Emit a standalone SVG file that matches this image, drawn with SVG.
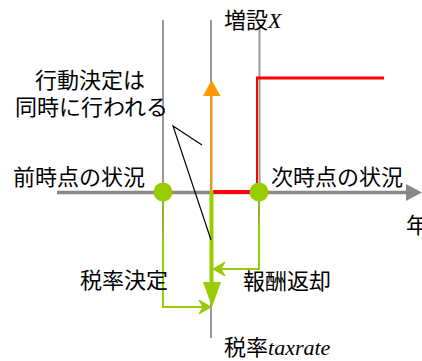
<svg xmlns="http://www.w3.org/2000/svg" width="422" height="361" viewBox="0 0 422 361">
<defs>
<style>
.t{font-family:"Noto Sans CJK JP","Noto Sans",sans-serif;font-size:22px;fill:#000}
.i{font-family:"Liberation Serif",serif;font-style:italic}
.g{stroke:#999;stroke-width:2;fill:none}
.gr{stroke:#99CC00;stroke-width:2;fill:none}
.red{stroke:#FF0000;fill:none}
</style>
<linearGradient id="lg" x1="0" y1="0" x2="0" y2="1">
<stop offset="0" stop-color="#8FA83A"/>
<stop offset="0.3" stop-color="#99B833"/>
<stop offset="0.4" stop-color="#99CC00"/>
<stop offset="1" stop-color="#99CC00"/>
</linearGradient>
</defs>
<rect width="422" height="361" fill="#fff"/>
<g id="guides">
<line class="g" x1="163" y1="20" x2="163" y2="192"/>
<line class="g" x1="211" y1="20" x2="211" y2="338"/>
<line class="g" x1="259.5" y1="27" x2="259.5" y2="192"/>
</g>
<g id="axis">
<line x1="57" y1="192.5" x2="408" y2="192.5" stroke="#888" stroke-width="3.5"/>
<polygon points="406,184 422,192.5 406,201" fill="#888"/>
</g>
<g id="redline">
<polyline class="red" points="213,192 257,192" stroke-width="4"/>
<line class="red" x1="257" y1="193" x2="257" y2="77" stroke-width="2"/>
<line class="red" x1="256" y1="78" x2="384" y2="78" stroke-width="3"/>
</g>
<g id="connectors">
<line x1="211.5" y1="192" x2="211.5" y2="95" stroke="#FF9900" stroke-width="2"/>
<polygon points="211.5,80 220.5,96 203,96" fill="#FF9900"/>
<line x1="211.5" y1="191" x2="211.5" y2="285" stroke="#99CC00" stroke-width="4"/>
<polygon points="203,282 221,282 212,307" fill="#99CC00"/>
<polyline points="163,200 163,307 205,307" stroke="url(#lg)" stroke-width="2" fill="none"/>
<path d="M211,307 L199,300 L203,307 L199,314 Z" fill="#99CC00" stroke="#99CC00" stroke-width="1" stroke-linejoin="round"/>
<polyline points="259,200 259,269 218,269" stroke="url(#lg)" stroke-width="2" fill="none"/>
<path d="M213,269 L225,262 L221,269 L225,276 Z" fill="#99CC00" stroke="#99CC00" stroke-width="1" stroke-linejoin="round"/>
<polyline points="202,145 173,126 211,240" stroke="#000" stroke-width="1.2" fill="none"/>
</g>
<g id="dots">
<circle cx="163" cy="192" r="9.5" fill="#99CC00"/>
<circle cx="259" cy="192" r="9.5" fill="#99CC00"/>
</g>
<g id="labels">
<text class="t" x="35" y="88">行動決定は</text>
<text class="t" x="15" y="115">同時に行われる</text>
<text class="t" x="13" y="185">前時点の状況</text>
<text class="t" x="271" y="185">次時点の状況</text>
<text class="t" x="224" y="28">増設<tspan class="i">X</tspan></text>
<text class="t" x="80" y="288">税率決定</text>
<text class="t" x="243" y="289">報酬返却</text>
<text class="t" x="224" y="355">税率<tspan class="i">taxrate</tspan></text>
<text class="t" x="406" y="233">年</text>
</g>
</svg>
